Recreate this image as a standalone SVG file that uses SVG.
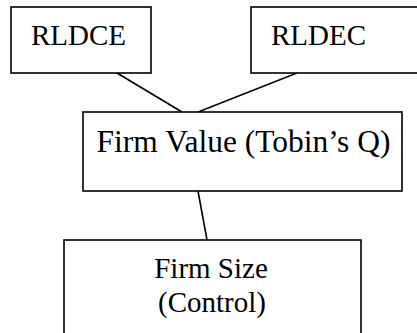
<svg xmlns="http://www.w3.org/2000/svg" width="417" height="333" viewBox="0 0 417 333">
  <style>
    .box { fill: #ffffff; stroke: #000000; stroke-width: 1.6; }
    .link { stroke: #000000; stroke-width: 1.6; fill: none; }
    .label { font-family: "Liberation Serif", "Times New Roman", serif; font-size: 29px; fill: #000000; }
    .big { font-size: 31.5px; }
  </style>
  <rect width="417" height="333" fill="#ffffff"/>
  <g id="connectors">
    <line class="link" x1="117" y1="73" x2="182" y2="112"/>
    <line class="link" x1="297" y1="73" x2="198" y2="112"/>
    <line class="link" x1="198" y1="191" x2="207" y2="240"/>
  </g>
  <g id="rldce">
    <rect class="box" x="11" y="7" width="140" height="66"/>
    <text class="label" x="31" y="45">RLDCE</text>
  </g>
  <g id="rldec">
    <rect class="box" x="251" y="7" width="170" height="66"/>
    <text class="label" x="271" y="45">RLDEC</text>
  </g>
  <g id="firm-value">
    <rect class="box" x="83" y="112" width="319" height="79"/>
    <text class="label big" x="243.5" y="152" text-anchor="middle">Firm Value (Tobin’s Q)</text>
  </g>
  <g id="firm-size">
    <rect class="box" x="64" y="240" width="297" height="100"/>
    <text class="label" x="211" y="278" text-anchor="middle">Firm Size</text>
    <text class="label" x="212" y="312" text-anchor="middle">(Control)</text>
  </g>
</svg>
